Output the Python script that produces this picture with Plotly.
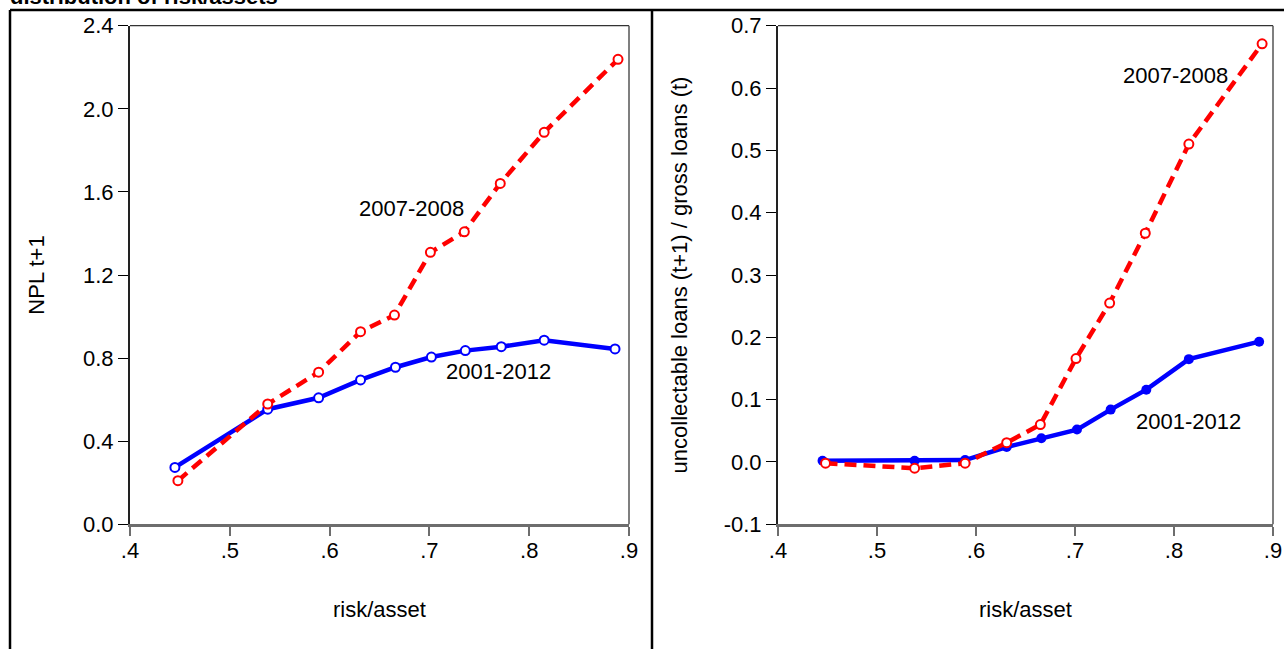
import plotly.graph_objects as go

# ---- data ----
risk_blue = [0.445, 0.538, 0.589, 0.631, 0.666, 0.702, 0.736, 0.772, 0.815, 0.886]
risk_red = [0.448, 0.538, 0.589, 0.631, 0.665, 0.701, 0.735, 0.771, 0.815, 0.889]

npl_2001_2012 = [0.274, 0.554, 0.609, 0.695, 0.756, 0.805, 0.836, 0.855, 0.886, 0.844]
npl_2007_2008 = [0.210, 0.579, 0.732, 0.927, 1.007, 1.309, 1.408, 1.641, 1.887, 2.238]

unc_2001_2012 = [0.002, 0.002, 0.003, 0.024, 0.038, 0.052, 0.084, 0.116, 0.165, 0.193]
unc_2007_2008 = [-0.002, -0.010, -0.002, 0.031, 0.060, 0.166, 0.255, 0.367, 0.510, 0.671]

x_ticks = [0.4, 0.5, 0.6, 0.7, 0.8, 0.9]
x_ticktext = [".4", ".5", ".6", ".7", ".8", ".9"]
left_yticks = [0.0, 0.4, 0.8, 1.2, 1.6, 2.0, 2.4]
left_yticktext = ["0.0", "0.4", "0.8", "1.2", "1.6", "2.0", "2.4"]
right_yticks = [-0.1, 0.0, 0.1, 0.2, 0.3, 0.4, 0.5, 0.6, 0.7]
right_yticktext = ["-0.1", "0.0", "0.1", "0.2", "0.3", "0.4", "0.5", "0.6", "0.7"]

W, H = 1284, 649
FONT = "Liberation Sans, Arial, sans-serif"
FS = 22
BLUE = "#0000FF"
RED = "#FF0000"

def px_x(p):
    return p / W

def px_y(p):
    return 1 - p / H

fig = go.Figure()

# left panel
fig.add_trace(go.Scatter(x=risk_blue, y=npl_2001_2012, mode="lines+markers", name="2001-2012",
                         line=dict(color=BLUE, width=4.5),
                         marker=dict(symbol="circle", size=9, color="white", line=dict(color=BLUE, width=2)),
                         xaxis="x", yaxis="y", showlegend=False))
fig.add_trace(go.Scatter(x=risk_red, y=npl_2007_2008, mode="lines+markers", name="2007-2008",
                         line=dict(color=RED, width=4.5, dash="12px,7px"),
                         marker=dict(symbol="circle", size=9, color="white", line=dict(color=RED, width=2)),
                         xaxis="x", yaxis="y", showlegend=False))
# right panel
fig.add_trace(go.Scatter(x=risk_blue, y=unc_2001_2012, mode="lines+markers", name="2001-2012",
                         line=dict(color=BLUE, width=4.5),
                         marker=dict(symbol="circle", size=10, color=BLUE),
                         xaxis="x2", yaxis="y2", showlegend=False))
fig.add_trace(go.Scatter(x=risk_red, y=unc_2007_2008, mode="lines+markers", name="2007-2008",
                         line=dict(color=RED, width=4.5, dash="12px,7px"),
                         marker=dict(symbol="circle", size=9, color="white", line=dict(color=RED, width=2)),
                         xaxis="x2", yaxis="y2", showlegend=False))

L = (130, 629)
R = (778, 1273)
TOP, BOT = 25.7, 524.3
ydom = [px_y(BOT), px_y(TOP)]

xcommon = dict(range=[0.4, 0.9], tickvals=x_ticks, ticktext=x_ticktext, showgrid=False, zeroline=False,
               showline=True, linecolor="#6d6d6d", linewidth=3, ticks="outside", ticklen=9,
               tickwidth=2, tickcolor="#6d6d6d", tickfont=dict(family=FONT, size=FS, color="black"),
               ticklabelstandoff=-5,
               title=dict(text="risk/asset", font=dict(family=FONT, size=FS, color="black"), standoff=40),
               automargin=False, fixedrange=True)
ycommon = dict(showgrid=False, zeroline=False, showline=True, linecolor="#222222", linewidth=2,
               ticks="outside", ticklen=10, tickwidth=1, tickcolor="black",
               tickfont=dict(family=FONT, size=FS, color="black"), automargin=False, fixedrange=True)

fig.update_layout(
    width=W, height=H,
    margin=dict(l=0, r=0, t=0, b=0),
    paper_bgcolor="white", plot_bgcolor="white",
    xaxis=dict(domain=[px_x(L[0]), px_x(L[1])], anchor="y", **xcommon),
    yaxis=dict(domain=ydom, anchor="x", range=[0, 2.4], tickvals=left_yticks, ticktext=left_yticktext,
               title=dict(text="NPL t+1", font=dict(family=FONT, size=FS, color="black"), standoff=32),
               **ycommon),
    xaxis2=dict(domain=[px_x(R[0]), px_x(R[1])], anchor="y2", **xcommon),
    yaxis2=dict(domain=ydom, anchor="x2", range=[-0.1, 0.7], tickvals=right_yticks, ticktext=right_yticktext,
                title=dict(text="uncollectable loans (t+1) / gross loans (t)",
                           font=dict(family=FONT, size=FS, color="black"), standoff=30),
                **ycommon),
)

# plot frames (top and right edges)
for (x0, x1) in (L, R):
    fig.add_shape(type="line", xref="paper", yref="paper", x0=px_x(x0), x1=px_x(x1), y0=px_y(TOP), y1=px_y(TOP),
                  line=dict(color="#333333", width=1.2))
    fig.add_shape(type="line", xref="paper", yref="paper", x0=px_x(x1), x1=px_x(x1), y0=px_y(TOP), y1=px_y(BOT),
                  line=dict(color="#555555", width=1.5))

# outer panel borders
fig.add_shape(type="line", xref="paper", yref="paper", x0=px_x(10), x1=px_x(10), y0=px_y(10), y1=-0.05,
              line=dict(color="black", width=2.5))
fig.add_shape(type="line", xref="paper", yref="paper", x0=px_x(652), x1=px_x(652), y0=px_y(10), y1=-0.05,
              line=dict(color="black", width=2.5))
fig.add_shape(type="line", xref="paper", yref="paper", x0=px_x(10), x1=1.05, y0=px_y(10), y1=px_y(10),
              line=dict(color="black", width=2.5))

ann_font = dict(family=FONT, size=FS, color="black")
fig.add_annotation(x=0.682, y=1.518, xref="x", yref="y", text="2007-2008", showarrow=False, font=ann_font)
fig.add_annotation(x=0.7696, y=0.7355, xref="x", yref="y", text="2001-2012", showarrow=False, font=ann_font)
fig.add_annotation(x=0.8013, y=0.6198, xref="x2", yref="y2", text="2007-2008", showarrow=False, font=ann_font)
fig.add_annotation(x=0.8144, y=0.0646, xref="x2", yref="y2", text="2001-2012", showarrow=False, font=ann_font)

# chart title, partially cut off at the top edge as in the source
fig.add_annotation(x=px_x(8), y=px_y(11), xref="paper", yref="paper", xanchor="left", yanchor="bottom",
                   text="<b>distribution of risk/assets</b>", showarrow=False,
                   font=dict(family=FONT, size=22, color="black"))

fig.write_html("out.html",
               config={"displayModeBar": False},
               post_script="document.body.style.margin='0';document.body.style.overflow='hidden';")
